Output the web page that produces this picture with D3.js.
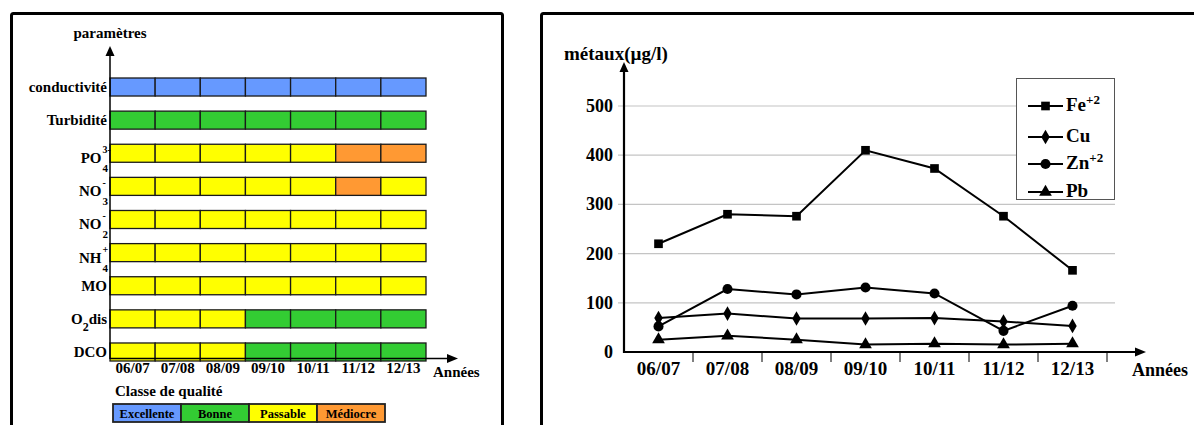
<!DOCTYPE html>
<html>
<head>
<meta charset="utf-8">
<script src="https://cdn.jsdelivr.net/npm/d3@7"></script>
<style>
  body { margin: 0; background: #fff; }
</style>
</head>
<body>
<svg id="chart" width="1194" height="425"></svg>
<script>
// years (both charts)
const years = ['06/07', '07/08', '08/09', '09/10', '10/11', '11/12', '12/13'];

// left chart: parameters and their quality class per year
const params = ['conductivité', 'Turbidité', 'PO4', 'NO3', 'NO2', 'NH4', 'MO', 'O2dis', 'DCO'];
const paramMain = ['conductivité', 'Turbidité', 'PO', 'NO', 'NO', 'NH', 'MO', 'O', 'DCO'];
const paramSub = ['', '', '4', '3', '2', '4', '', '2', ''];
const paramSup = ['', '', '3-', '-', '-', '+', '', '', ''];
const paramTail = ['', '', '', '', '', '', '', 'dis', ''];

const classes = ['Excellente', 'Bonne', 'Passable', 'Médiocre'];
const classColors = ['#6699ff', '#33cc33', '#ffff00', '#ff9933'];

const quality = [
    ['Excellente', 'Excellente', 'Excellente', 'Excellente', 'Excellente', 'Excellente', 'Excellente'],
    ['Bonne', 'Bonne', 'Bonne', 'Bonne', 'Bonne', 'Bonne', 'Bonne'],
    ['Passable', 'Passable', 'Passable', 'Passable', 'Passable', 'Médiocre', 'Médiocre'],
    ['Passable', 'Passable', 'Passable', 'Passable', 'Passable', 'Médiocre', 'Passable'],
    ['Passable', 'Passable', 'Passable', 'Passable', 'Passable', 'Passable', 'Passable'],
    ['Passable', 'Passable', 'Passable', 'Passable', 'Passable', 'Passable', 'Passable'],
    ['Passable', 'Passable', 'Passable', 'Passable', 'Passable', 'Passable', 'Passable'],
    ['Passable', 'Passable', 'Passable', 'Bonne', 'Bonne', 'Bonne', 'Bonne'],
    ['Passable', 'Passable', 'Passable', 'Bonne', 'Bonne', 'Bonne', 'Bonne']
];

// right chart: metals (µg/l)
const fe = [220, 280, 276, 410, 373, 276, 166];
const cu = [69, 78, 68, 68, 69, 62, 53];
const zn = [52, 128, 117, 131, 119, 43, 94];
const pb = [25, 33, 25, 15, 17, 15, 17];
const yTicks = [0, 100, 200, 300, 400, 500];

const svg = d3.select('#chart')
    .attr('font-family', "'Liberation Serif', 'Times New Roman', 'DejaVu Serif', serif")
    .attr('font-weight', 'bold');

// panel frames (bottom edges run off the picture)
svg.append('rect').attr('x', 11.5).attr('y', 13.5).attr('width', 491).attr('height', 600)
    .attr('rx', 2).attr('fill', 'none').attr('stroke', '#000').attr('stroke-width', 3);
svg.append('rect').attr('x', 541.5).attr('y', 13.5).attr('width', 800).attr('height', 600)
    .attr('rx', 2).attr('fill', 'none').attr('stroke', '#000').attr('stroke-width', 3);

function arrowUp(g, x, y) {
    g.append('path').attr('d', `M${x},${y} L${x - 4.5},${y + 10} L${x + 4.5},${y + 10} Z`).attr('fill', '#000');
}
function arrowRight(g, x, y) {
    g.append('path').attr('d', `M${x},${y} L${x - 11},${y - 4.5} L${x - 11},${y + 4.5} Z`).attr('fill', '#000');
}

drawQuality();
drawMetals();

function drawQuality() {
    const g = svg.append('g');
    const x = d3.scaleBand().domain(years).range([110, 426]);
    const y = d3.scaleBand().domain(params).range([78, 361]).paddingInner(0.456).paddingOuter(0);
    const color = d3.scaleOrdinal().domain(classes).range(classColors);

    // cells
    params.forEach((p, i) => {
        g.selectAll(null)
            .data(quality[i])
            .enter()
            .append('rect')
            .attr('x', (d, j) => x(years[j]))
            .attr('y', y(p))
            .attr('width', x.bandwidth())
            .attr('height', y.bandwidth())
            .attr('fill', (d) => color(d))
            .attr('stroke', '#1a1a1a')
            .attr('stroke-width', 1.3);
    });

    // axes
    g.append('line').attr('x1', 110).attr('x2', 110).attr('y1', 359).attr('y2', 56)
        .attr('stroke', '#000').attr('stroke-width', 1.5);
    arrowUp(g, 110, 46);
    g.append('line').attr('x1', 110).attr('x2', 448).attr('y1', 358.5).attr('y2', 358.5)
        .attr('stroke', '#000').attr('stroke-width', 1.5);
    arrowRight(g, 458, 358.5);

    g.append('text').attr('x', 110).attr('y', 38).attr('text-anchor', 'middle')
        .attr('font-size', 15).text('paramètres');

    // row labels (chemical ones get a stacked sub/superscript)
    params.forEach((p, i) => {
        const cy = y(p) + y.bandwidth() / 2;
        if (!paramSub[i]) {
            g.append('text').attr('x', 107).attr('y', cy + 5).attr('text-anchor', 'end')
                .attr('font-size', 15).text(paramMain[i]);
        } else if (paramTail[i]) {
            const t = g.append('text').attr('x', 107).attr('y', cy + 5).attr('text-anchor', 'end')
                .attr('font-size', 15);
            t.append('tspan').text(paramMain[i]);
            t.append('tspan').attr('dy', 7).attr('font-size', 12).text(paramSub[i]);
            t.append('tspan').attr('dy', -7).text(paramTail[i]);
        } else {
            const base = y(p) + 19;
            g.append('text').attr('x', 101.5).attr('y', base).attr('text-anchor', 'end')
                .attr('font-size', 15).text(paramMain[i]);
            g.append('text').attr('x', 102.5).attr('y', base + 9)
                .attr('font-size', 11).text(paramSub[i]);
            g.append('text').attr('x', 102.5).attr('y', base - 10)
                .attr('font-size', 10).text(paramSup[i]);
        }
    });

    // year labels
    g.selectAll('.yr')
        .data(years)
        .enter()
        .append('text')
        .attr('x', (d) => x(d) + x.bandwidth() / 2)
        .attr('y', 373)
        .attr('text-anchor', 'middle')
        .attr('font-size', 15)
        .text((d) => d);
    g.append('text').attr('x', 433).attr('y', 377).attr('font-size', 15).text('Années');

    // quality legend
    g.append('text').attr('x', 115).attr('y', 396).attr('font-size', 15).text('Classe de qualité');
    const lx = d3.scaleBand().domain(classes).range([113, 385]);
    g.selectAll('.leg')
        .data(classes)
        .enter()
        .append('rect')
        .attr('x', (d) => lx(d))
        .attr('y', 404)
        .attr('width', lx.bandwidth())
        .attr('height', 18)
        .attr('fill', (d) => color(d))
        .attr('stroke', '#222')
        .attr('stroke-width', 1.8);
    g.selectAll('.legt')
        .data(classes)
        .enter()
        .append('text')
        .attr('x', (d) => lx(d) + lx.bandwidth() / 2)
        .attr('y', 417.5)
        .attr('text-anchor', 'middle')
        .attr('font-size', 12.5)
        .text((d) => d);
}

function drawMetals() {
    const g = svg.append('g');
    const x = d3.scaleBand().domain(years).range([624, 1107]);
    const y = d3.scaleLinear().domain([0, 500]).range([352, 106]);

    // grid
    g.selectAll('.grid')
        .data(yTicks.slice(1))
        .enter()
        .append('line')
        .attr('x1', 618).attr('x2', 1115)
        .attr('y1', (d) => y(d)).attr('y2', (d) => y(d))
        .attr('stroke', '#c4c4c4').attr('stroke-width', 1.2);

    g.selectAll('.ytl')
        .data(yTicks)
        .enter()
        .append('text')
        .attr('x', 613)
        .attr('y', (d) => y(d) + 6)
        .attr('text-anchor', 'end')
        .attr('font-size', 18)
        .text((d) => d);

    // axes
    g.append('line').attr('x1', 624).attr('x2', 624).attr('y1', 353).attr('y2', 72)
        .attr('stroke', '#000').attr('stroke-width', 2.2);
    arrowUp(g, 624, 62);
    g.append('line').attr('x1', 623).attr('x2', 1136).attr('y1', 352).attr('y2', 352)
        .attr('stroke', '#000').attr('stroke-width', 2.2);
    arrowRight(g, 1146, 352);

    g.selectAll('.xt')
        .data(years)
        .enter()
        .append('line')
        .attr('x1', (d) => x(d) + x.bandwidth()).attr('x2', (d) => x(d) + x.bandwidth())
        .attr('y1', 352).attr('y2', 362)
        .attr('stroke', '#000').attr('stroke-width', 1);

    g.selectAll('.xtl')
        .data(years)
        .enter()
        .append('text')
        .attr('x', (d) => x(d) + x.bandwidth() / 2)
        .attr('y', 375)
        .attr('text-anchor', 'middle')
        .attr('font-size', 19)
        .text((d) => d);
    g.append('text').attr('x', 1132).attr('y', 376).attr('font-size', 18).text('Années');
    g.append('text').attr('x', 564).attr('y', 60).attr('font-size', 19).text('métaux(µg/l)');

    const series = [
        { name: 'Fe', sup: '+2', values: fe, symbol: d3.symbolSquare, size: 75 },
        { name: 'Cu', sup: '', values: cu, symbol: d3.symbolDiamond, size: 62 },
        { name: 'Zn', sup: '+2', values: zn, symbol: d3.symbolCircle, size: 80 },
        { name: 'Pb', sup: '', values: pb, symbol: d3.symbolTriangle, size: 70 }
    ];

    const line = d3.line()
        .x((d, i) => x(years[i]) + x.bandwidth() / 2)
        .y((d) => y(d));

    series.forEach((s) => {
        g.append('path')
            .attr('d', line(s.values))
            .attr('fill', 'none')
            .attr('stroke', '#000')
            .attr('stroke-width', 2);
        g.selectAll(null)
            .data(s.values)
            .enter()
            .append('path')
            .attr('d', d3.symbol().type(s.symbol).size(s.size))
            .attr('transform', (d, i) => `translate(${x(years[i]) + x.bandwidth() / 2},${y(d)})`)
            .attr('fill', '#000');
    });

    // legend
    g.append('rect').attr('x', 1016.5).attr('y', 78.5).attr('width', 98).attr('height', 121)
        .attr('fill', '#fff').attr('stroke', '#555').attr('stroke-width', 1);
    const legY = [106, 137, 164, 192];
    series.forEach((s, i) => {
        g.append('line').attr('x1', 1028).attr('x2', 1063).attr('y1', legY[i]).attr('y2', legY[i])
            .attr('stroke', '#000').attr('stroke-width', 2);
        g.append('path').attr('d', d3.symbol().type(s.symbol).size(s.size))
            .attr('transform', `translate(1045.5,${legY[i]})`).attr('fill', '#000');
        const t = g.append('text').attr('x', 1066).attr('y', legY[i] + 5).attr('font-size', 19);
        t.append('tspan').text(s.name);
        if (s.sup) t.append('tspan').attr('dy', -7).attr('font-size', 13).text(s.sup);
    });
}
</script>
</body>
</html>
